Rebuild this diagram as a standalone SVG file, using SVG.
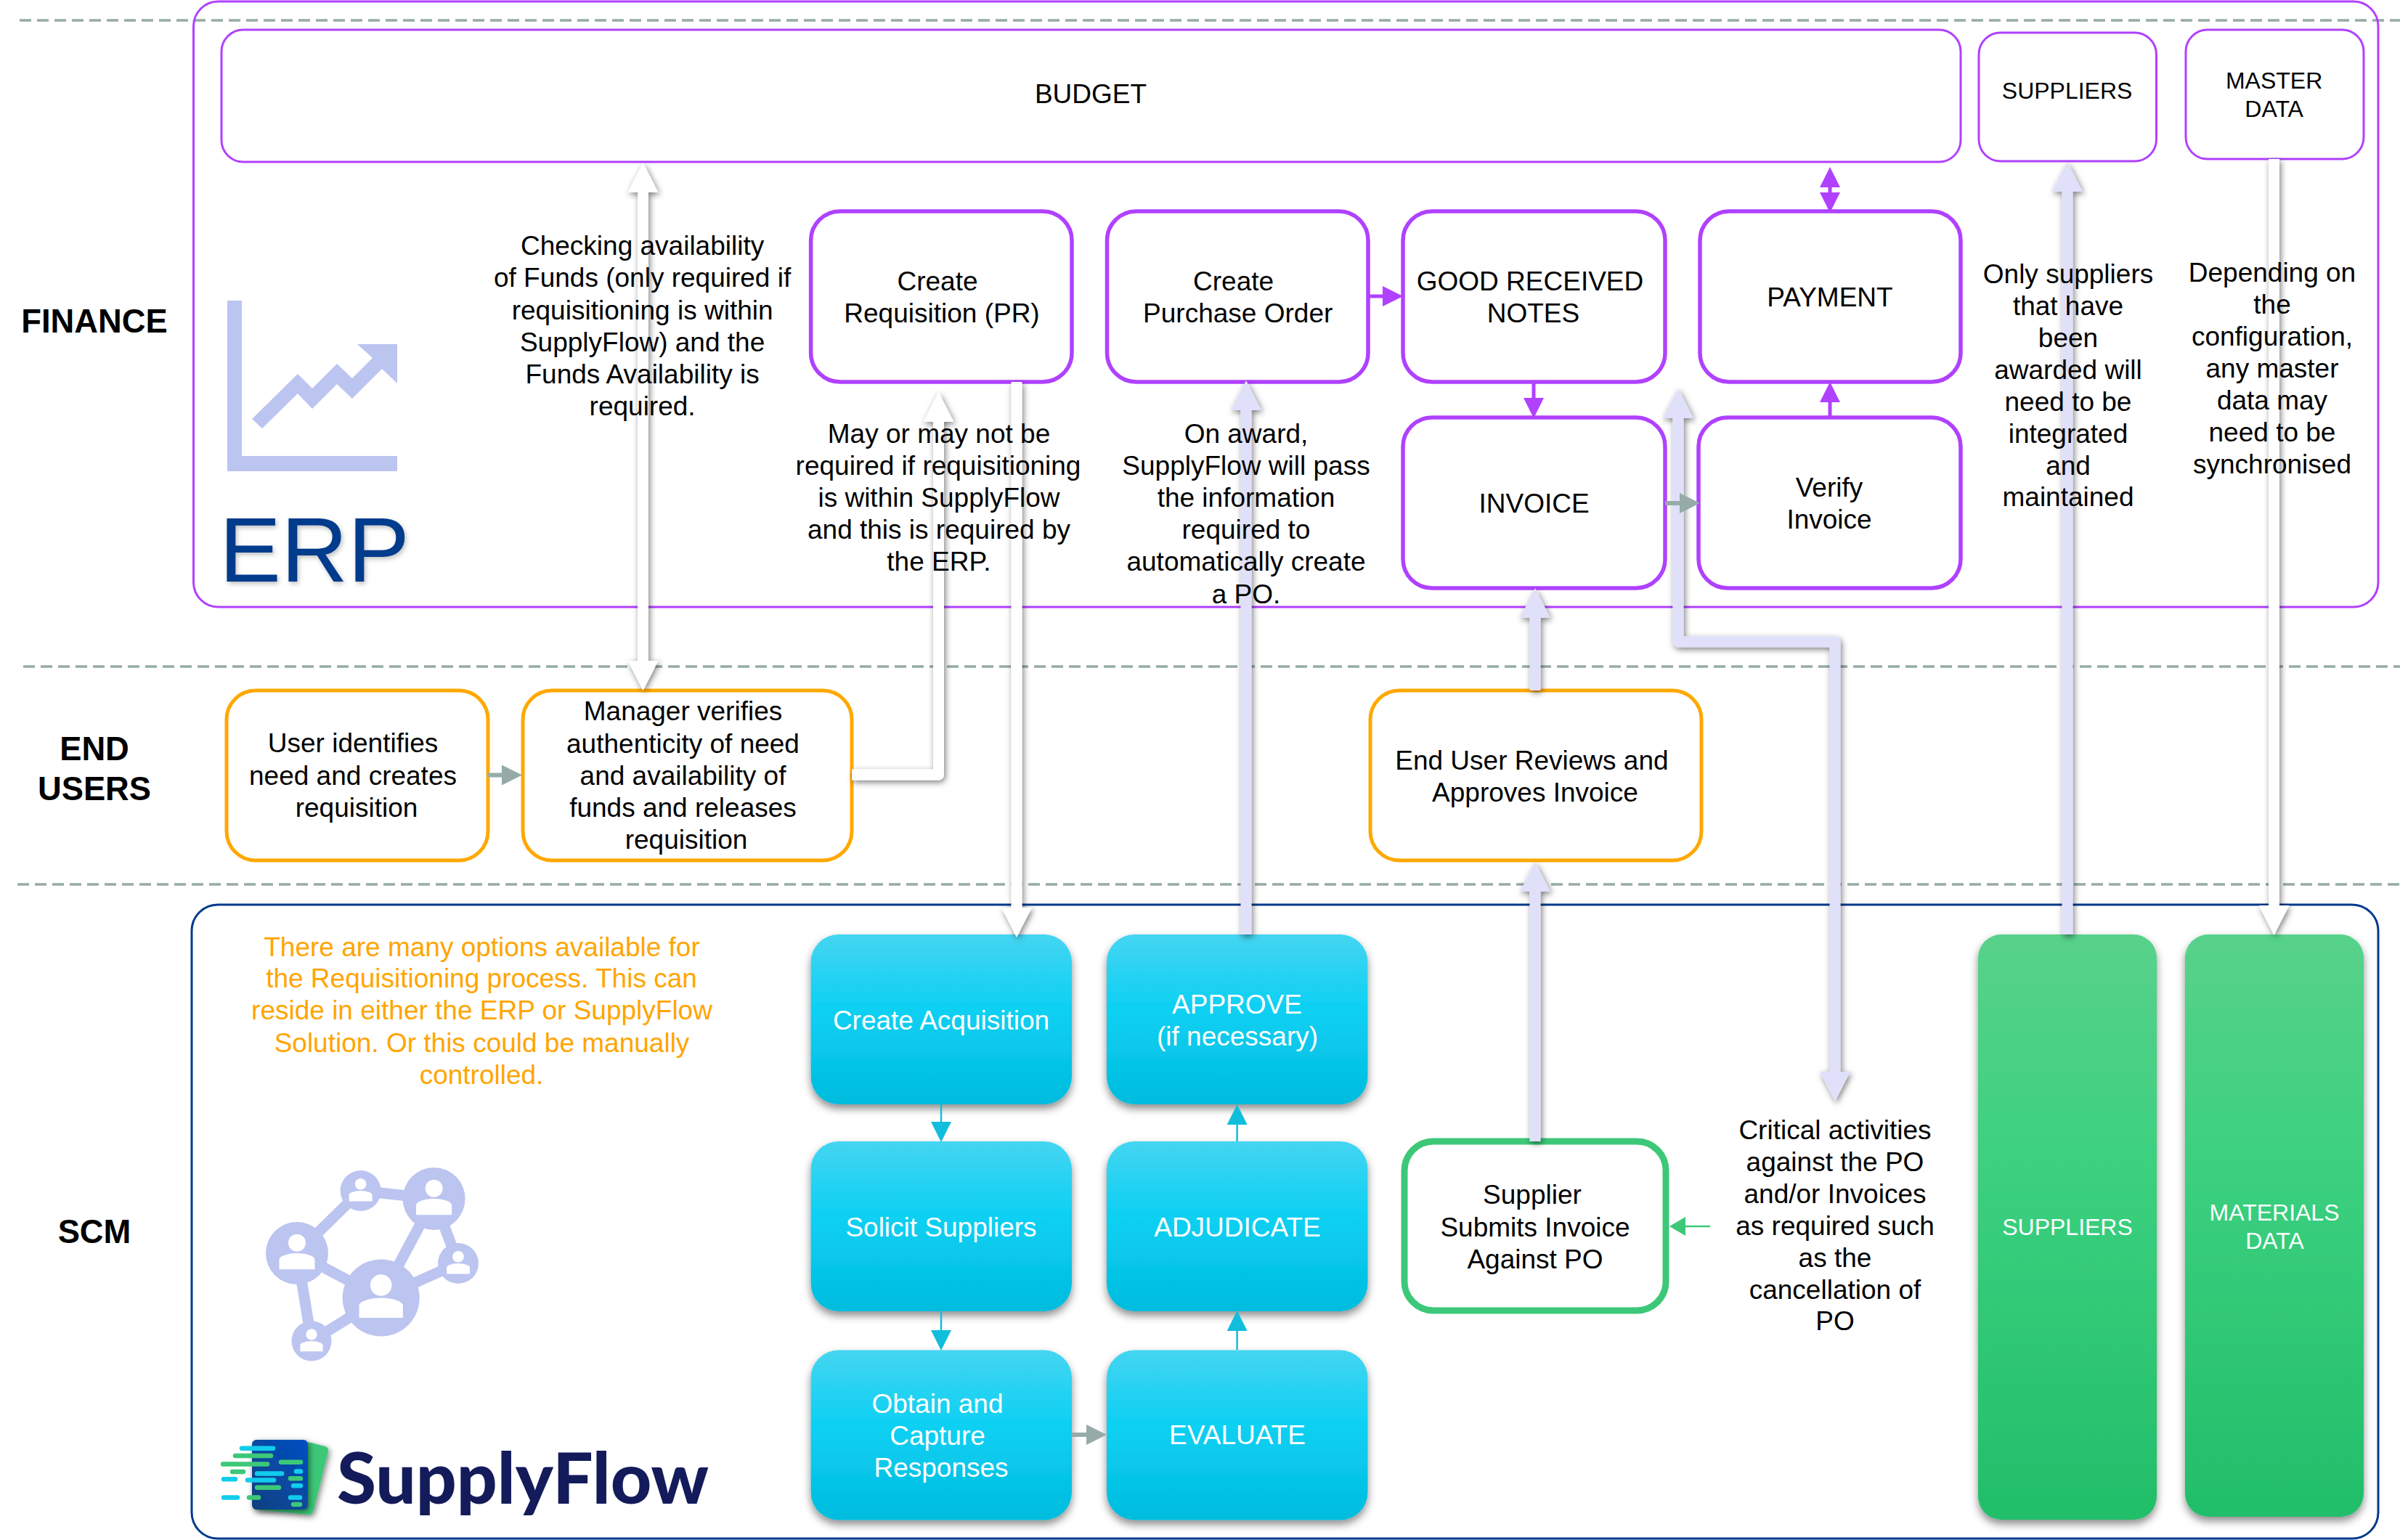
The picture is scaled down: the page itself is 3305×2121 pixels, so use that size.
<svg xmlns="http://www.w3.org/2000/svg" width="3305" height="2121" viewBox="0 0 3305 2121">
<style>
text{font-family:"Liberation Sans",Arial,sans-serif;text-anchor:middle;font-size:37px;fill:#000}
.h{font-size:45.3px;font-weight:700}
.s{font-size:32px}
.w{fill:#fff}
.o{fill:#FFA500}
.dash{stroke:#96ABA8;stroke-width:3.5;stroke-dasharray:16 8;fill:none}
.big{fill:#fff;stroke:#B041FF;stroke-width:3}
.pn{fill:#fff;stroke:#B041FF;stroke-width:5.5}
.un{fill:#fff;stroke:#FFA800;stroke-width:5}
.cy{fill:url(#cyan)}
.gr{fill:url(#green)}
.tl{fill:none;stroke-width:15;stroke-linejoin:round}
.lav{stroke:#E0E0FA}
.wh{stroke:#fff}
.gy{stroke:#96ABA8;stroke-width:6;fill:none}
.pu{stroke:#B041FF;stroke-width:5;fill:none}
.cn{stroke:#10BEDC;stroke-width:2.5;fill:none}
.ic{fill:#BCC4F0}
.sbar{fill:none;stroke-width:6.5;stroke-linecap:round}
</style>
<defs>
<linearGradient id="cyan" x1="0" y1="0" x2="0" y2="1"><stop offset="0" stop-color="#45D5F1"/><stop offset=".45" stop-color="#0BD0F3"/><stop offset="1" stop-color="#02BCDE"/></linearGradient>
<linearGradient id="green" x1="0" y1="0" x2="0" y2="1"><stop offset="0" stop-color="#58D28B"/><stop offset=".4" stop-color="#3BD07F"/><stop offset="1" stop-color="#22BE6A"/></linearGradient>
<linearGradient id="blue" x1="1" y1="0" x2="0" y2="1"><stop offset="0" stop-color="#0050C4"/><stop offset="1" stop-color="#10407E"/></linearGradient>
<filter id="sh" filterUnits="userSpaceOnUse" x="0" y="0" width="3305" height="2121"><feDropShadow dx="2" dy="3" stdDeviation="4" flood-color="#000" flood-opacity=".5"/></filter>
<filter id="nsh" filterUnits="userSpaceOnUse" x="0" y="0" width="3305" height="2121"><feDropShadow dx="0" dy="6" stdDeviation="6" flood-color="#000" flood-opacity=".45"/></filter>
<filter id="tsh" filterUnits="userSpaceOnUse" x="0" y="0" width="3305" height="2121"><feDropShadow dx="2" dy="3" stdDeviation="3" flood-color="#000" flood-opacity=".25"/></filter>
<marker id="hL" viewBox="0 0 41 42" refX="0" refY="21" markerWidth="41" markerHeight="42" markerUnits="userSpaceOnUse" orient="auto-start-reverse"><path d="M0 0L41 21L0 42Z" fill="#E0E0FA"/></marker>
<marker id="hW" viewBox="0 0 41 42" refX="0" refY="21" markerWidth="41" markerHeight="42" markerUnits="userSpaceOnUse" orient="auto-start-reverse"><path d="M0 0L41 21L0 42Z" fill="#fff"/></marker>
<marker id="hG" viewBox="0 0 28 28" refX="0" refY="14" markerWidth="28" markerHeight="28" markerUnits="userSpaceOnUse" orient="auto"><path d="M0 0L28 14L0 28Z" fill="#96ABA8"/></marker>
<marker id="hP" viewBox="0 0 28 28" refX="0" refY="14" markerWidth="28" markerHeight="28" markerUnits="userSpaceOnUse" orient="auto-start-reverse"><path d="M0 0L28 14L0 28Z" fill="#B041FF"/></marker>
<marker id="hC" viewBox="0 0 28 28" refX="0" refY="14" markerWidth="28" markerHeight="28" markerUnits="userSpaceOnUse" orient="auto"><path d="M0 0L28 14L0 28Z" fill="#10BEDC"/></marker>
<marker id="hN" viewBox="0 0 22 26" refX="0" refY="13" markerWidth="22" markerHeight="26" markerUnits="userSpaceOnUse" orient="auto"><path d="M0 0L22 13L0 26Z" fill="#3CC878"/></marker>
<g id="person"><circle cx="0" cy="-.33" r=".28" fill="#fff"/><path d="M-.57 .52V.2Q-.57 .13-.42 .07Q-.25 0 0 0Q.25 0 .42 .07Q.57 .13 .57 .2V.52Z" fill="#fff"/></g>
</defs>

<g id="lanes">
<path class="dash" d="M27 28H3305"/>
<path class="dash" d="M32 918H3305"/>
<path class="dash" d="M24 1218H3305"/>
</g>

<g id="containers">
<rect id="erp-box" x="266.5" y="2" width="3008.5" height="834" rx="34" fill="none" stroke="#B041FF" stroke-width="3"/>
<rect id="scm-box" x="264" y="1246" width="3011" height="873" rx="36" fill="none" stroke="#003A8C" stroke-width="3"/>
</g>

<g id="lane-labels">
<text class="h" x="130" y="458">FINANCE</text>
<text class="h"><tspan x="130" y="1047">END</tspan><tspan x="130" y="1102">USERS</tspan></text>
<text class="h" x="130" y="1712">SCM</text>
</g>

<g id="erp-logo">
<path class="ic" d="M313 414H333V628H547V649H313Z"/>
<path class="ic" d="M347 577L410 515L430 535L464 501L485 521L513 493L492 474H547V528L526 508L485 549L464 529L430 563L410 542L361 590Z"/>
<text x="302" y="801" filter="url(#tsh)" style="font-size:127px;text-anchor:start;fill:#003A8C" textLength="262" lengthAdjust="spacingAndGlyphs">ERP</text>
</g>

<g id="scm-logo">
<g stroke="#BCC4F0" stroke-width="15">
<path d="M496.6 1640L597.6 1651M496.6 1640L409 1726M597.6 1651L524.7 1787.5M597.6 1651L631 1740M409 1726L524.7 1787.5M409 1726L429 1847M524.7 1787.5L631 1740M524.7 1787.5L429 1847"/>
</g>
<g class="ic"><circle cx="496.6" cy="1640" r="28"/><circle cx="597.6" cy="1651" r="43"/><circle cx="409" cy="1726" r="43"/><circle cx="524.7" cy="1787.5" r="53"/><circle cx="631" cy="1740" r="28"/><circle cx="429" cy="1847" r="27.5"/></g>
<use href="#person" transform="translate(496.6 1640) scale(28)"/>
<use href="#person" transform="translate(597.6 1651) scale(43)"/>
<use href="#person" transform="translate(409 1726) scale(43)"/>
<use href="#person" transform="translate(524.7 1787.5) scale(53)"/>
<use href="#person" transform="translate(631 1740) scale(28)"/>
<use href="#person" transform="translate(429 1847) scale(27.5)"/>
</g>

<g id="supplyflow-logo">
<path d="M424 1986L448 1992Q453 1994 452 1999L432 2080Q430 2087 424 2086L350 2079Z" fill="#3CC878" filter="url(#sh)"/>
<rect x="347" y="1983" width="77" height="96" rx="6" fill="url(#blue)" filter="url(#sh)"/>
<g class="sbar" stroke="#12CCEC">
<path d="M333 1994.7H376M354 2029.4H388M408 2026.6H414M308 2037.3H324M341 2038.4H377M404 2046.2H414M308 2062.4H327M400 2062.4H413"/>
</g>
<g class="sbar" stroke="#3CC878">
<path d="M324 2005H373M307 2016.5H368M387 2013.7H414M320 2027H335M400 2036.2H414M354 2048.8H384M343 2062.4H356M404 2072H413"/>
</g>
<text x="464" y="2071" style="font-family:Lato,'Liberation Sans',sans-serif;font-weight:900;font-size:98px;text-anchor:start;fill:#141B5A" textLength="512" lengthAdjust="spacingAndGlyphs">SupplyFlow</text>
</g>

<g id="node-budget"><rect class="big" x="305" y="41" width="2395" height="182" rx="30"/><text x="1502" y="142">BUDGET</text></g>
<g id="node-suppliers-erp"><rect class="big" x="2725" y="45" width="244.5" height="177" rx="30"/><text class="s" x="2846.6" y="136">SUPPLIERS</text></g>
<g id="node-master-data"><rect class="big" x="3010" y="41" width="245" height="178" rx="30"/><text class="s"><tspan x="3131.6" y="122">MASTER</tspan><tspan x="3131.6" y="161">DATA</tspan></text></g>
<g id="node-create-pr"><rect class="pn" x="1116.6" y="291" width="359.4" height="235" rx="40"/><text><tspan x="1291" y="399.5">Create</tspan><tspan x="1297" y="444">Requisition (PR)</tspan></text></g>
<g id="node-create-po"><rect class="pn" x="1524.5" y="291" width="359.5" height="235" rx="40"/><text><tspan x="1698.6" y="399.5">Create</tspan><tspan x="1704.7" y="444">Purchase Order</tspan></text></g>
<g id="node-grn"><rect class="pn" x="1932" y="291" width="361" height="235" rx="40"/><text><tspan x="2107" y="399.5">GOOD RECEIVED</tspan><tspan x="2111.4" y="444">NOTES</tspan></text></g>
<g id="node-payment"><rect class="pn" x="2341" y="291" width="359" height="235" rx="40"/><text x="2520" y="422">PAYMENT</text></g>
<g id="node-invoice"><rect class="pn" x="1932" y="575" width="361" height="235" rx="40"/><text x="2112.6" y="706">INVOICE</text></g>
<g id="node-verify"><rect class="pn" x="2339" y="575" width="361" height="235" rx="40"/><text><tspan x="2519" y="684">Verify</tspan><tspan x="2519" y="728">Invoice</tspan></text></g>

<g id="node-user"><rect class="un" x="312" y="951" width="360" height="234" rx="40"/><text><tspan x="486" y="1036">User identifies</tspan><tspan x="486" y="1081">need and creates</tspan><tspan x="491" y="1124.6">requisition</tspan></text></g>
<g id="node-manager"><rect class="un" x="720" y="951" width="453" height="234" rx="40"/><text><tspan x="940.5" y="992">Manager verifies</tspan><tspan x="940.5" y="1036.6">authenticity of need</tspan><tspan x="940.5" y="1081">and availability of</tspan><tspan x="940.5" y="1124.6">funds and releases</tspan><tspan x="945" y="1169">requisition</tspan></text></g>
<g id="node-end-user"><rect class="un" x="1887" y="951" width="456" height="234" rx="40"/><text><tspan x="2109.4" y="1060">End User Reviews and</tspan><tspan x="2114" y="1104">Approves Invoice</tspan></text></g>

<g id="node-create-acq"><rect class="cy" x="1116.6" y="1287" width="359.4" height="234" rx="38" filter="url(#nsh)"/><text class="w" x="1296" y="1418">Create Acquisition</text></g>
<g id="node-solicit"><rect class="cy" x="1116.6" y="1572" width="359.4" height="234" rx="38" filter="url(#nsh)"/><text class="w" x="1296" y="1702.5">Solicit Suppliers</text></g>
<g id="node-obtain"><rect class="cy" x="1116.6" y="1859.5" width="359.4" height="234" rx="38" filter="url(#nsh)"/><text class="w"><tspan x="1291" y="1946">Obtain and</tspan><tspan x="1291" y="1990">Capture</tspan><tspan x="1296" y="2033.5">Responses</tspan></text></g>
<g id="node-approve"><rect class="cy" x="1524" y="1287" width="359.5" height="234" rx="38" filter="url(#nsh)"/><text class="w"><tspan x="1703.5" y="1395.5">APPROVE</tspan><tspan x="1704" y="1439.5">(if necessary)</tspan></text></g>
<g id="node-adjudicate"><rect class="cy" x="1524" y="1572" width="359.5" height="234" rx="38" filter="url(#nsh)"/><text class="w" x="1704" y="1702.5">ADJUDICATE</text></g>
<g id="node-evaluate"><rect class="cy" x="1524" y="1859.5" width="359.5" height="234" rx="38" filter="url(#nsh)"/><text class="w" x="1704" y="1989">EVALUATE</text></g>
<g id="node-supplier-invoice"><rect x="1934" y="1572" width="360" height="233" rx="40" fill="#fff" stroke="#3CC878" stroke-width="9"/><text><tspan x="2110" y="1658">Supplier</tspan><tspan x="2114" y="1702.5">Submits Invoice</tspan><tspan x="2114" y="1747">Against PO</tspan></text></g>
<g id="node-suppliers-scm"><rect class="gr" x="2724" y="1287" width="246" height="806" rx="32" filter="url(#nsh)"/><text class="s w" x="2847" y="1701">SUPPLIERS</text></g>
<g id="node-materials"><rect class="gr" x="3009" y="1287" width="246" height="802" rx="32" filter="url(#nsh)"/><text class="s w"><tspan x="3132" y="1681">MATERIALS</tspan><tspan x="3132.5" y="1720">DATA</tspan></text></g>

<g id="connectors">
<g filter="url(#sh)">
<path class="tl wh" d="M885.5 265V910" marker-start="url(#hW)" marker-end="url(#hW)"/>
<path class="tl wh" d="M1173 1067H1292.5V581" marker-end="url(#hW)"/>
<path class="tl wh" d="M1400 526V1250" marker-end="url(#hW)"/>
<path class="tl wh" d="M3131.5 219V1247" marker-end="url(#hW)"/>
<path class="tl lav" d="M1716 1287V565" marker-end="url(#hL)"/>
<path class="tl lav" d="M2114 951V851" marker-end="url(#hL)"/>
<path class="tl lav" d="M2114 1572V1228" marker-end="url(#hL)"/>
<path class="tl lav" d="M2527 1476V884H2311V576" marker-start="url(#hL)" marker-end="url(#hL)"/>
<path class="tl lav" d="M2847 1287V264" marker-end="url(#hL)"/>
</g>
<path class="gy" d="M672 1067.5H691" marker-end="url(#hG)"/>
<path class="gy" d="M2293 693H2313" marker-end="url(#hG)"/>
<path class="gy" d="M1476 1976H1496" marker-end="url(#hG)"/>
<path class="pu" d="M1884 408H1904" marker-end="url(#hP)"/>
<path class="pu" d="M2112 526V548" marker-end="url(#hP)"/>
<path class="pu" d="M2520 575V554" marker-end="url(#hP)"/>
<path class="pu" d="M2520 258V265" marker-start="url(#hP)" marker-end="url(#hP)"/>
<path class="cn" d="M1296 1521V1545" marker-end="url(#hC)"/>
<path class="cn" d="M1296 1806V1832" marker-end="url(#hC)"/>
<path class="cn" d="M1703.6 1572V1549" marker-end="url(#hC)"/>
<path class="cn" d="M1703.6 1859V1833" marker-end="url(#hC)"/>
<path d="M2355 1689H2321" stroke="#3CC878" stroke-width="2.5" fill="none" marker-end="url(#hN)"/>
</g>

<g id="note-funds"><text><tspan x="884.6" y="351">Checking availability</tspan><tspan x="884.6" y="395">of Funds (only required if</tspan><tspan x="884.6" y="440">requisitioning is within</tspan><tspan x="884.6" y="484">SupplyFlow) and the</tspan><tspan x="884.6" y="528">Funds Availability is</tspan><tspan x="884.6" y="572">required.</tspan></text></g>
<g id="note-pr"><text><tspan x="1293" y="609.6">May or may not be</tspan><tspan x="1292" y="654">required if requisitioning</tspan><tspan x="1293" y="698">is within SupplyFlow</tspan><tspan x="1293" y="742">and this is required by</tspan><tspan x="1293" y="786">the ERP.</tspan></text></g>
<g id="note-po"><text><tspan x="1716" y="609.6">On award,</tspan><tspan x="1716" y="654">SupplyFlow will pass</tspan><tspan x="1716" y="698">the information</tspan><tspan x="1716" y="742">required to</tspan><tspan x="1716" y="786">automatically create</tspan><tspan x="1716" y="830.6">a PO.</tspan></text></g>
<g id="note-suppliers"><text><tspan x="2848" y="390">Only suppliers</tspan><tspan x="2848" y="434">that have</tspan><tspan x="2848" y="478">been</tspan><tspan x="2848" y="522">awarded will</tspan><tspan x="2848" y="566">need to be</tspan><tspan x="2848" y="610">integrated</tspan><tspan x="2848" y="654">and</tspan><tspan x="2848" y="697">maintained</tspan></text></g>
<g id="note-master"><text><tspan x="3129" y="387.6">Depending on</tspan><tspan x="3129" y="431.6">the</tspan><tspan x="3129" y="475.6">configuration,</tspan><tspan x="3129" y="519.6">any master</tspan><tspan x="3129" y="563.5">data may</tspan><tspan x="3129" y="607.5">need to be</tspan><tspan x="3129" y="651.5">synchronised</tspan></text></g>
<g id="note-critical"><text><tspan x="2527" y="1568.5">Critical activities</tspan><tspan x="2527" y="1612.5">against the PO</tspan><tspan x="2527" y="1656.5">and/or Invoices</tspan><tspan x="2527" y="1700.6">as required such</tspan><tspan x="2527" y="1744.6">as the</tspan><tspan x="2527" y="1788.6">cancellation of</tspan><tspan x="2527" y="1832">PO</tspan></text></g>
<g id="note-requisition"><text class="o"><tspan x="663.5" y="1316.5">There are many options available for</tspan><tspan x="663" y="1360">the Requisitioning process. This can</tspan><tspan x="663.5" y="1404">reside in either the ERP or SupplyFlow</tspan><tspan x="663.5" y="1448.7">Solution. Or this could be manually</tspan><tspan x="663" y="1493">controlled.</tspan></text></g>
</svg>
